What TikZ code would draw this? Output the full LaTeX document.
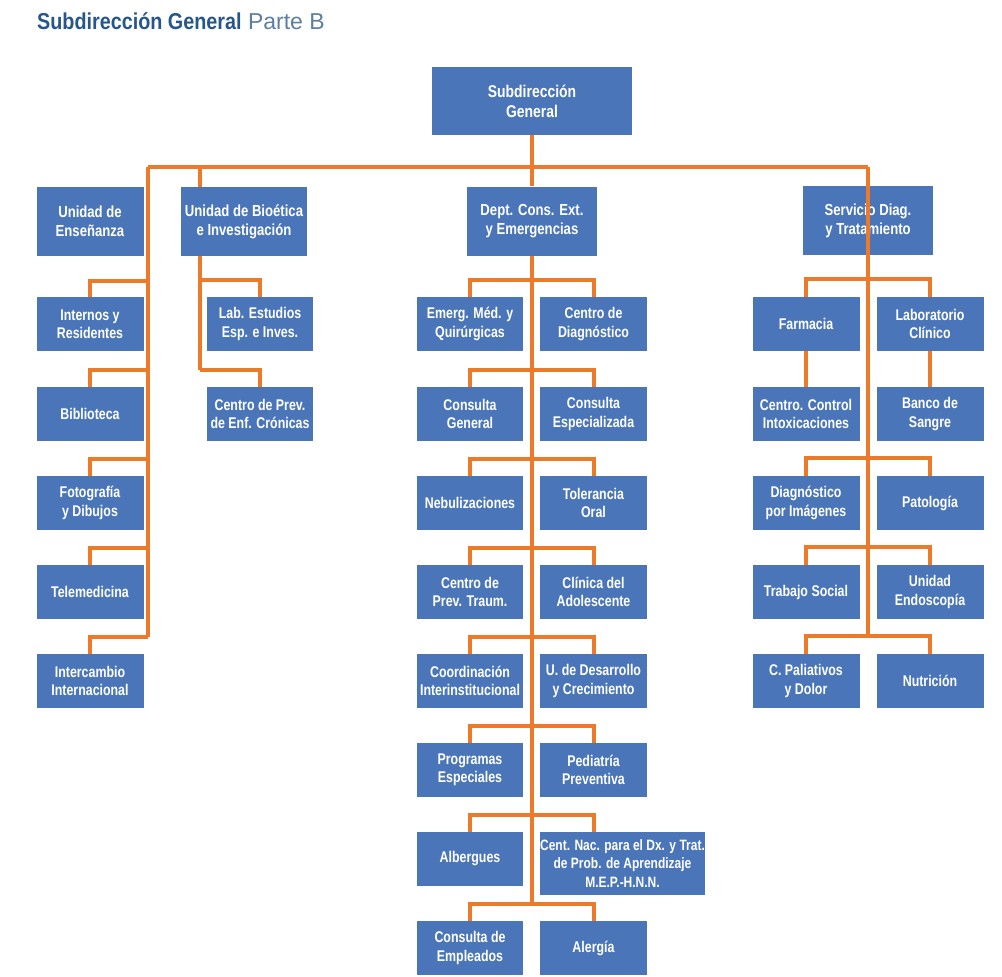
\documentclass[tikz,border=0pt]{standalone}
\usepackage{fontspec}
\setmainfont{Liberation Sans}
\newfontfamily\boxfont{Liberation Sans}[FakeStretch=0.80]
\newfontfamily\headfont{Liberation Sans}[FakeStretch=0.82]
\newfontfamily\titlefont{Liberation Sans}[FakeStretch=0.86]
\definecolor{boxblue}{RGB}{74,118,185}
\definecolor{linkorange}{RGB}{236,122,40}
\definecolor{titleblue}{RGB}{38,86,138}
\definecolor{titlegray}{RGB}{92,126,160}
\pgfdeclarelayer{bg}
\pgfsetlayers{bg,main}
\tikzset{
  unit/.style={fill=boxblue, text=white, align=center, inner sep=0pt,
    minimum height=54pt, minimum width=107pt,
    font=\boxfont\bfseries\fontsize{15.5}{18.5}\selectfont},
  head/.style={unit, minimum height=69pt, minimum width=130pt,
    font=\headfont\bfseries\fontsize{16}{19}\selectfont},
  link/.style={draw=linkorange, line width=4pt},
}
\begin{document}
\begin{tikzpicture}[x=1pt, y=-1pt]
\useasboundingbox (0,0) rectangle (1002,977);

% title
\node[anchor=base west, inner sep=0pt] (title) at (37,30)
  {\fontsize{23}{27}\selectfont{\titlefont\bfseries\color{titleblue}Subdirección General} {\color{titlegray}Parte B}};

% top level
\node[unit, minimum width=200pt, minimum height=68pt,
  font=\headfont\bfseries\fontsize{17}{20}\selectfont] (sg) at (532,101) {Subdirección\\General};

\node[head, minimum width=107pt] (ens) at (90,221.5) {Unidad de\\Enseñanza};
\node[head, minimum width=126pt] (bio) at (244,221.5) {Unidad de Bioética\\e Investigación};
\node[head] (dept) at (532,221) {Dept. Cons. Ext.\\y Emergencias};
\node[head] (serv) at (868,220.5) {Servicio Diag.\\y Tratamiento};

% Enseñanza
\node[unit] (int)   at (90,324) {Internos y\\Residentes};
\node[unit] (bib)   at (90,414) {Biblioteca};
\node[unit] (foto)  at (90,503) {Fotografía\\y Dibujos};
\node[unit] (tele)  at (90,592) {Telemedicina};
\node[unit] (inter) at (90,681) {Intercambio\\Internacional};

% Bioética
\node[unit, minimum width=106pt] (labe) at (260,324) {Lab. Estudios\\Esp. e Inves.};
\node[unit, minimum width=106pt] (cpec) at (260,414) {Centro de Prev.\\de Enf. Crónicas};

% Consulta Externa y Emergencias
\node[unit, minimum width=106pt] (emq)  at (470,324) {Emerg. Méd. y\\Quirúrgicas};
\node[unit] (cdiag) at (593.5,324) {Centro de\\Diagnóstico};
\node[unit, minimum width=106pt] (cgen) at (470,414) {Consulta\\General};
\node[unit] (cesp)  at (593.5,414) {Consulta\\Especializada};
\node[unit, minimum width=106pt] (neb)  at (470,503) {Nebulizaciones};
\node[unit] (tol)   at (593.5,503) {Tolerancia\\Oral};
\node[unit, minimum width=106pt] (cpt)  at (470,592) {Centro de\\Prev. Traum.};
\node[unit] (cado)  at (593.5,592) {Clínica del\\Adolescente};
\node[unit, minimum width=106pt] (coord) at (470,681) {Coordinación\\Interinstitucional};
\node[unit] (udc)   at (593.5,681) {U. de Desarrollo\\y Crecimiento};
\node[unit, minimum width=106pt] (pesp) at (470,770) {Programas\\Especiales};
\node[unit] (pped)  at (593.5,770) {Pediatría\\Preventiva};
\node[unit, minimum width=106pt] (alb)  at (470,859) {Albergues};
\node[unit, minimum width=165pt, minimum height=63pt,
  font=\boxfont\bfseries\fontsize{15}{18.5}\selectfont] (cnac) at (622.5,863.5)
  {Cent. Nac. para el Dx. y Trat.\\de Prob. de Aprendizaje\\M.E.P.-H.N.N.};
\node[unit, minimum width=106pt] (cemp) at (470,948) {Consulta de\\Empleados};
\node[unit] (alerg) at (593.5,948) {Alergía};

% Servicio de Diagnóstico y Tratamiento
\node[unit] (farm)  at (806,324) {Farmacia};
\node[unit] (labc)  at (930,324) {Laboratorio\\Clínico};
\node[unit] (cci)   at (806,414) {Centro. Control\\Intoxicaciones};
\node[unit] (bsan)  at (930,414) {Banco de\\Sangre};
\node[unit] (dimg)  at (806,503) {Diagnóstico\\por Imágenes};
\node[unit] (pato)  at (930,503) {Patología};
\node[unit] (tsoc)  at (806,592) {Trabajo Social};
\node[unit] (uend)  at (930,592) {Unidad\\Endoscopía};
\node[unit] (cpal)  at (806,681) {C. Paliativos\\y Dolor};
\node[unit] (nutr)  at (930,681) {Nutrición};

% junction points of the connector tree
\coordinate (busL) at (148,167);
\coordinate (busB) at (200,167);
\coordinate (busR) at (868,167);
\coordinate (ensEnd) at (148,637);
\coordinate (bioEnd) at (200,370);
\coordinate (bioJ) at (200,280);
\coordinate (deptEnd) at (532,904);
\coordinate (servEnd) at (868,637);
\coordinate (eJ1) at (148,281);
\coordinate (eJ2) at (148,370);
\coordinate (eJ3) at (148,459);
\coordinate (eJ4) at (148,548);

\begin{pgfonlayer}{bg}
  % main bus
  \draw[link] (sg.south) -- (dept.north);
  \draw[link] (busL) -- (busR);
  % Enseñanza
  \draw[link] (busL) -- (ensEnd);
  \draw[link] (eJ1) -| (int.north);
  \draw[link] (eJ2) -| (bib.north);
  \draw[link] (eJ3) -| (foto.north);
  \draw[link] (eJ4) -| (tele.north);
  \draw[link] (ensEnd) -| (inter.north);
  % Bioética
  \draw[link] (busB) -- (bioEnd);
  \draw[link] (bioJ) -| (labe.north);
  \draw[link] (bioEnd) -| (cpec.north);
  % Consulta Externa y Emergencias
  \draw[link] (dept.south) -- (deptEnd);
  \draw[link] (emq.north) -- ++(0,-17) -| (cdiag.north);
  \draw[link] (cgen.north) -- ++(0,-17) -| (cesp.north);
  \draw[link] (neb.north) -- ++(0,-17) -| (tol.north);
  \draw[link] (cpt.north) -- ++(0,-17) -| (cado.north);
  \draw[link] (coord.north) -- ++(0,-17) -| (udc.north);
  \draw[link] (pesp.north) -- ++(0,-17) -| (pped.north);
  \draw[link] (alb.north) -- ++(0,-17) -| (cnac.north -| cdiag.north);
  \draw[link] (cemp.north) -- ++(0,-17) -| (alerg.north);
  % Servicio de Diagnóstico y Tratamiento
  \draw[link] (farm.north) -- ++(0,-18) -| (labc.north);
  \draw[link] (farm) -- (cci);
  \draw[link] (labc) -- (bsan);
  \draw[link] (dimg.north) -- ++(0,-18) -| (pato.north);
  \draw[link] (tsoc.north) -- ++(0,-18) -| (uend.north);
  \draw[link] (cpal.north) -- ++(0,-18) -| (nutr.north);
\end{pgfonlayer}

% the Servicio spine runs over its box
\draw[link] (busR) -- (servEnd);
\end{tikzpicture}
\end{document}
